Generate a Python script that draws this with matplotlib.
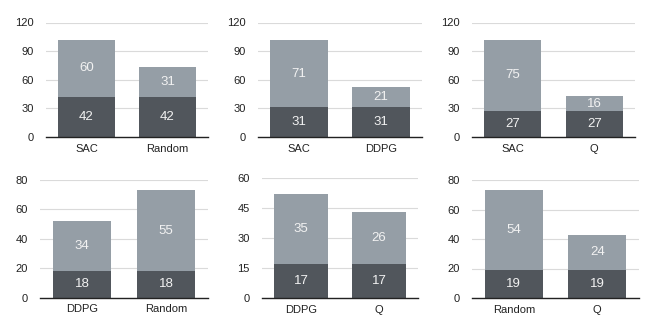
import matplotlib
matplotlib.use("Agg")
import matplotlib.pyplot as plt

plt.rcParams['font.family'] = ['Liberation Sans', 'DejaVu Sans']

# data for each panel: categories, bottom (dark) and top (light) values
cats = [["SAC", "Random"], ["SAC", "DDPG"], ["SAC", "Q"],
        ["DDPG", "Random"], ["DDPG", "Q"], ["Random", "Q"]]
bottom_vals = [[42, 42], [31, 31], [27, 27],
               [18, 18], [17, 17], [19, 19]]
top_vals = [[60, 31], [71, 21], [75, 16],
            [34, 55], [35, 26], [54, 24]]
y_max = [120, 120, 120, 80, 60, 80]
y_step = [30, 30, 30, 20, 15, 20]

dark = "#51565c"
light = "#959ea6"

W, H = 665, 330
fig = plt.figure(figsize=(W / 100, H / 100), dpi=100)

# axes rects in pixels: left, right, top, bottom
rects = [(46, 208, 22.5, 137), (258, 422, 22.5, 137), (472, 635, 22.5, 137),
         (40, 208, 180, 297.5), (262, 418, 178, 298), (472, 639, 180, 298)]

for i, (l, r, t, b) in enumerate(rects):
    ax = fig.add_axes([l / W, 1 - b / H, (r - l) / W, (b - t) / H])
    x = [0, 1]
    ax.bar(x, bottom_vals[i], width=0.7, color=dark, zorder=3)
    ax.bar(x, top_vals[i], width=0.7, bottom=bottom_vals[i], color=light, zorder=3)
    for xi, bv, tv in zip(x, bottom_vals[i], top_vals[i]):
        ax.text(xi, bv / 2, str(bv), ha="center", va="center", color="#f2f2f2",
                fontsize=9.5, zorder=4)
        ax.text(xi, bv + tv / 2, str(tv), ha="center", va="center", color="#f2f2f2",
                fontsize=9.5, zorder=4)
    ax.set_xlim(-0.5, 1.5)
    ax.set_ylim(0, y_max[i])
    ax.set_yticks(range(0, y_max[i] + 1, y_step[i]))
    ax.set_xticks(x)
    ax.set_xticklabels(cats[i])
    ax.tick_params(axis="both", length=0, labelsize=8, colors="#222222")
    ax.tick_params(axis="y", pad=9)
    ax.tick_params(axis="x", pad=5)
    ax.grid(axis="y", color="#dadada", linewidth=0.8, zorder=0)
    for s in ["top", "right", "left"]:
        ax.spines[s].set_visible(False)
    ax.spines["bottom"].set_color("#222222")
    ax.spines["bottom"].set_linewidth(1.0)
    ax.spines["bottom"].set_zorder(5)

fig.savefig("out.png", dpi=100)
